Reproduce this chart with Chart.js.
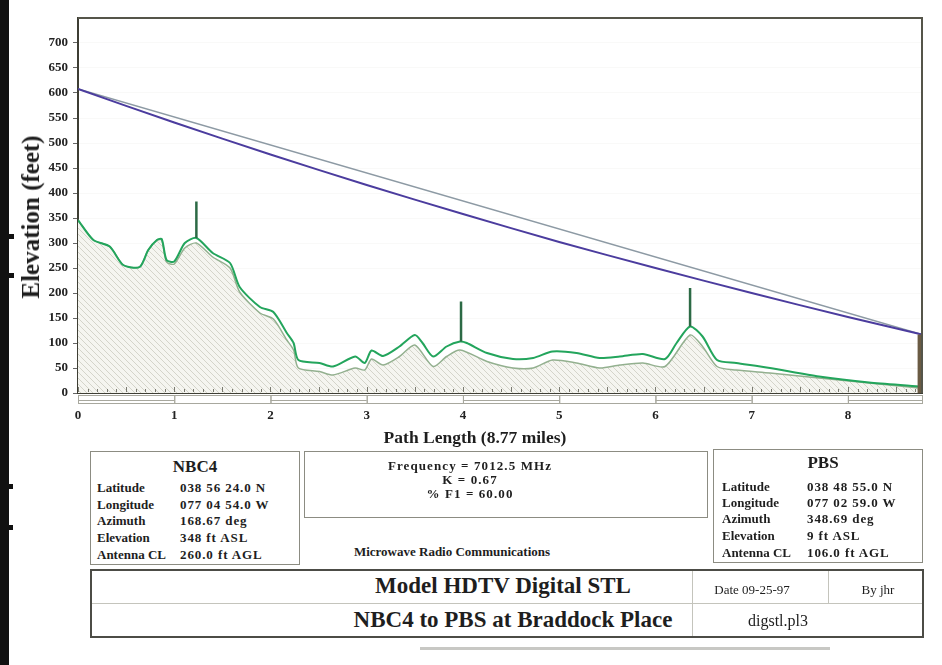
<!DOCTYPE html>
<html>
<head>
<meta charset="utf-8">
<script src="https://cdn.jsdelivr.net/npm/chart.js@4.4.1/dist/chart.umd.min.js"></script>
<style>
body{margin:0;width:942px;height:665px;background:#fff;position:relative;overflow:hidden;font-family:"Liberation Serif","Times New Roman",serif;color:#1e1e1e}
#wrap{position:absolute;left:0;top:0;width:942px;height:450px}
.abs{position:absolute;white-space:nowrap}
.c{transform:translate(-50%,-50%)}
.box{position:absolute;box-sizing:border-box;border:1px solid #8c8c82}
.row{position:absolute;font-size:13px;font-weight:bold;line-height:14px;white-space:nowrap}
.row span{position:absolute;left:0}
.row span.v{letter-spacing:0.9px}
.mid{font-size:13px;font-weight:bold;letter-spacing:1.1px}
</style>
</head>
<body>

<div id="wrap"><canvas id="profile" width="942" height="450"></canvas></div>

<!-- scanner edge -->
<div class="abs" style="left:0;top:0;width:9px;height:665px;background:#111"></div>
<div class="abs" style="left:0;top:234px;width:14px;height:5px;background:#111"></div>
<div class="abs" style="left:0;top:273px;width:14px;height:5px;background:#111"></div>
<div class="abs" style="left:0;top:484px;width:13px;height:5px;background:#111"></div>
<div class="abs" style="left:0;top:525px;width:13px;height:5px;background:#111"></div>
<div class="abs" style="left:420px;top:647px;width:410px;height:3px;background:#c8c8c4"></div>

<!-- axis titles -->
<div class="abs c" style="left:31px;top:217px;font-size:25px;font-weight:bold;transform:translate(-50%,-50%) rotate(-90deg)">Elevation (feet)</div>
<div class="abs c" style="left:475px;top:437px;font-size:17.5px;font-weight:bold">Path Length (8.77 miles)</div>

<!-- NBC4 -->
<div class="box" style="left:90px;top:451px;width:210px;height:114px"></div>
<div class="abs c" style="left:195px;top:467px;font-size:17px;font-weight:bold">NBC4</div>
<div id="nbc4"></div>

<!-- middle -->
<div class="box" style="left:304px;top:451px;width:404px;height:67px"></div>
<div class="abs c mid" style="left:470px;top:466px">Frequency = 7012.5 MHz</div>
<div class="abs c mid" style="left:470px;top:480px">K = 0.67</div>
<div class="abs c mid" style="left:470px;top:494px">% F1 = 60.00</div>
<div class="abs c" style="left:452px;top:552px;font-size:13px;font-weight:bold">Microwave Radio Communications</div>

<!-- PBS -->
<div class="box" style="left:713px;top:449px;width:210px;height:114px"></div>
<div class="abs c" style="left:823px;top:463px;font-size:17px;font-weight:bold">PBS</div>
<div id="pbs"></div>

<!-- title block -->
<div class="abs" style="left:90px;top:569px;width:834px;height:69px;box-sizing:border-box;border:2px solid #4c4c46"></div>
<div class="abs" style="left:92px;top:603px;width:830px;height:1px;background:#c4c4bc"></div>
<div class="abs" style="left:692px;top:571px;width:1px;height:65px;background:#c4c4bc"></div>
<div class="abs" style="left:828px;top:571px;width:1px;height:32px;background:#c4c4bc"></div>
<div class="abs c" style="left:503px;top:586px;font-size:23px;font-weight:bold">Model HDTV Digital STL</div>
<div class="abs c" style="left:513px;top:620px;font-size:23px;font-weight:bold">NBC4 to PBS at Braddock Place</div>
<div class="abs c" style="left:752px;top:590px;font-size:13px">Date 09-25-97</div>
<div class="abs c" style="left:878px;top:590px;font-size:13px">By jhr</div>
<div class="abs c" style="left:778px;top:621px;font-size:16px">digstl.pl3</div>

<script>

/* DATA */

const xTicks = [0,1,2,3,4,5,6,7,8]
const yTicks = [0,50,100,150,200,250,300,350,400,450,500,550,600,650,700]

// terrain with clearance (green)
const topMiles = [0,0.16,0.33,0.47,0.64,0.73,0.82,0.87,0.92,1.0,1.11,1.23,1.40,1.58,1.68,1.89,2.03,2.17,2.24,2.29,2.51,2.65,2.88,2.98,3.05,3.17,3.34,3.50,3.58,3.69,3.83,3.97,4.04,4.25,4.52,4.73,4.93,5.18,5.42,5.63,5.87,6.10,6.22,6.36,6.49,6.64,6.84,7.19,7.70,8.22,8.74,8.77]
const topFeet = [346,306,293,256,252,286,306,308,266,263,300,310,280,260,212,172,162,120,100,66,60,53,73,60,85,74,93,116,100,73,93,103,100,80,68,70,83,80,70,73,78,68,100,133,113,66,60,50,33,21,13,12]

// ground (hatched)
const groundMiles = [0,0.16,0.33,0.47,0.64,0.73,0.82,0.87,0.92,1.0,1.11,1.23,1.40,1.58,1.68,1.89,2.03,2.17,2.24,2.29,2.51,2.65,2.88,2.98,3.05,3.17,3.34,3.50,3.69,3.83,3.97,4.25,4.52,4.73,4.93,5.18,5.42,5.63,5.87,6.10,6.36,6.49,6.64,6.84,7.19,7.70,8.22,8.74,8.77]
const groundFeet = [346,306,293,256,252,286,306,306,262,258,290,300,272,250,202,160,148,106,86,50,43,36,50,46,68,56,73,96,53,73,86,63,50,50,66,60,50,56,60,53,116,93,53,46,40,30,20,10,9]

// line of sight and beam
const losMiles = [0,8.77]
const losFeet = [608,117]
const beamMiles = [0,1,2,3,4,5,6,7,8,8.77]
const beamFeet = [608,541,477,416,358,302,250,200,152,117]

// obstructions
const spikeMiles = [1.23,3.98,6.36]
const spikeBase = [310,103,133]
const spikeTop = [383,183,210]

// PBS tower
const towerMile = 8.745
const towerFeet = [0,117]

const nbc4Rows = [["Latitude","038 56 24.0 N"],["Longitude","077 04 54.0 W"],["Azimuth","168.67 deg"],["Elevation","348 ft ASL"],["Antenna CL","260.0 ft AGL"]]
const pbsRows = [["Latitude","038 48 55.0 N"],["Longitude","077 02 59.0 W"],["Azimuth","348.69 deg"],["Elevation","9 ft ASL"],["Antenna CL","106.0 ft AGL"]]


/* INFO BOXES */

function fillRows(id,rows,left,valLeft,tops){

const el = document.getElementById(id)

rows.forEach((r,i)=>{

const d = document.createElement("div")
d.className = "row"
d.style.left = left+"px"
d.style.top = (tops[i]-7)+"px"
d.innerHTML = "<span>"+r[0]+"</span><span class='v' style='left:"+(valLeft-left)+"px'>"+r[1]+"</span>"
el.appendChild(d)

})

}

fillRows("nbc4",nbc4Rows,97,180,[488,505,521,538,555])
fillRows("pbs",pbsRows,722,807,[487,503,519,536,553])


/* HATCH */

function hatch(){

const c = document.createElement("canvas")
c.width = 6
c.height = 6
const g = c.getContext("2d")
g.fillStyle = "#f5f5f0"
g.fillRect(0,0,6,6)
g.strokeStyle = "#d4d4ca"
g.lineWidth = 1
g.beginPath()
g.moveTo(-1,-1); g.lineTo(7,7)
g.moveTo(-1,5); g.lineTo(1,7)
g.moveTo(5,-1); g.lineTo(7,1)
g.stroke()
return g.createPattern(c,"repeat")

}

const pts = (xs,ys)=>xs.map((x,i)=>({x:x,y:ys[i]}))


/* PLOT DECOR */

const decor = {

id:"decor",

afterDatasetsDraw(chart){

const {ctx,chartArea:a,scales:{x}} = chart

ctx.save()

// minor ticks inside
ctx.strokeStyle = "#7a7a70"
ctx.lineWidth = 1
ctx.beginPath()
for(let i=0;i<=87;i++){
const px = Math.round(x.getPixelForValue(i/10))+0.5
ctx.moveTo(px,a.bottom-1)
ctx.lineTo(px,a.bottom-(i%5===0?6:4))
}
ctx.stroke()

// scale bar under axis
for(let i=0;i<9;i++){
const x0 = x.getPixelForValue(i)
const x1 = x.getPixelForValue(Math.min(i+1,8.77))
ctx.strokeStyle = "#a8a89e"
ctx.strokeRect(x0+0.5,a.bottom+2.5,x1-x0,8)
if(i%2===0){
ctx.beginPath()
ctx.moveTo(x0,a.bottom+7.5)
ctx.lineTo(x1,a.bottom+7.5)
ctx.stroke()
}
}

// frame top and right
ctx.strokeStyle = "#55554a"
ctx.lineWidth = 2
ctx.beginPath()
ctx.moveTo(a.left,a.top)
ctx.lineTo(a.right,a.top)
ctx.lineTo(a.right,a.bottom)
ctx.stroke()

ctx.restore()

}

}


/* CHART */

const datasets = [

{data:pts(losMiles,losFeet),borderColor:"#8d9aa4",borderWidth:1.5,order:5},
{data:pts(beamMiles,beamFeet),borderColor:"#4b3c9e",borderWidth:2,tension:0.3,order:4},
{data:pts(topMiles,topFeet),borderColor:"#23a55c",borderWidth:2,tension:0.25,order:2},
{data:pts(groundMiles,groundFeet),borderColor:"#93b08f",borderWidth:1.5,tension:0.25,fill:"origin",backgroundColor:hatch(),order:3},
{data:pts([towerMile,towerMile],towerFeet),borderColor:"#6a5b43",borderWidth:4,order:1}

]

spikeMiles.forEach((m,i)=>{

datasets.push({data:[{x:m,y:spikeBase[i]},{x:m,y:spikeTop[i]}],borderColor:"#2c6a45",borderWidth:2.5,order:1})

})

new Chart(

document.getElementById("profile"),

{

type:"line",

data:{datasets:datasets},

plugins:[decor],

options:{

responsive:false,
animation:false,
layout:{padding:{left:0,top:18,right:20,bottom:0}},
elements:{point:{radius:0}},
plugins:{legend:{display:false},tooltip:{enabled:false}},

scales:{

x:{
type:"linear",
min:0,
max:8.77,
afterBuildTicks:axis=>{axis.ticks = xTicks.map(v=>({value:v}))},
afterFit:axis=>{axis.height = 57},
grid:{drawOnChartArea:false,drawTicks:false},
border:{color:"#3e3e34",width:2},
ticks:{padding:15,color:"#222",font:{family:"Liberation Serif",size:13,weight:"bold"}}
},

y:{
min:0,
max:750,
afterBuildTicks:axis=>{axis.ticks = yTicks.map(v=>({value:v}))},
afterFit:axis=>{axis.width = 78},
grid:{color:"rgba(90,90,70,0.04)",tickColor:"#666",tickLength:5},
border:{color:"#3e3e34",width:2},
ticks:{padding:5,color:"#222",font:{family:"Liberation Serif",size:13,weight:"bold"}}
}

}

}

}

)

</script>
</body>
</html>
